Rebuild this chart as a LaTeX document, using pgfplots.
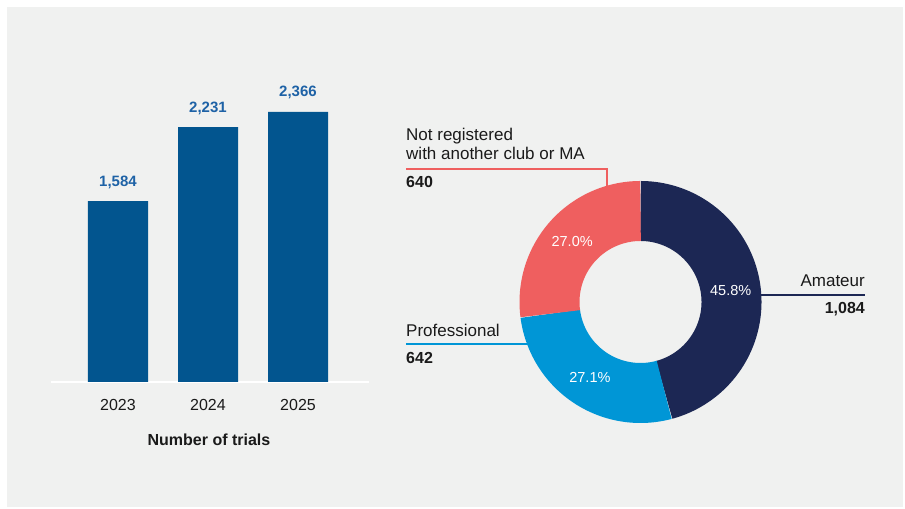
\documentclass[border=0pt]{standalone}
\usepackage{pgfplots}
\pgfplotsset{compat=1.18}
\usepackage{fontspec}
\setmainfont{Liberation Sans}
\definecolor{bg}{HTML}{F0F1F0}
\definecolor{barblue}{HTML}{02558F}
\definecolor{lblblue}{HTML}{1E62A6}
\definecolor{navy}{HTML}{1C2754}
\definecolor{sky}{HTML}{0096D6}
\definecolor{coral}{HTML}{EF5F5F}
\definecolor{ink}{HTML}{1A1A1A}
\newcommand{\fs}[1]{\fontsize{#1bp}{#1bp}\selectfont}
\begin{document}
\begin{tikzpicture}[x=1bp,y=1bp]
\useasboundingbox (0,0) rectangle (905,509);
\fill[white] (0,0) rectangle (905,509);
\fill[bg] (7,2) rectangle (903,502);
% ---------------- bar chart ----------------
\begin{axis}[at={(51bp,127bp)}, anchor=south west,
  width=318bp, height=300bp, scale only axis,
  xmin=-0.7444, xmax=2.7889, ymin=0, ymax=2627,
  axis y line=none, axis x line*=bottom,
  x axis line style={white, line width=2bp, -},
  xtick={0,1,2}, xticklabels={2023,2024,2025},
  major tick length=0pt,
  xticklabel style={font=\fs{16}, text=ink, anchor=base, yshift=-28.7bp},
  /pgf/number format/.cd, 1000 sep={,}, assume math mode=true]
\addplot[ybar, bar width=60bp, bar shift=0pt, fill=barblue, draw=none,
  nodes near coords,
  every node near coord/.append style={font=\bfseries\fs{15}, text=lblblue, anchor=base, yshift=15bp, inner sep=0pt}]
  coordinates {(0,1584) (1,2231) (2,2366)};
\end{axis}
\node[anchor=base, inner sep=0pt, font=\bfseries\fs{16}, text=ink] at (209,63.3) {Number of trials};
% ---------------- donut ----------------
\pgfmathsetmacro\tot{1084+642+640}
\pgfmathsetmacro\aA{90-1084/\tot*360}
\pgfmathsetmacro\aB{\aA-642/\tot*360}
\pgfmathsetmacro\aC{\aB-640/\tot*360}
\pgfmathsetmacro\mA{(90+\aA)/2}
\pgfmathsetmacro\mB{(\aA+\aB)/2}
\pgfmathsetmacro\mC{(\aB+\aC)/2}
\begin{axis}[at={(640.5bp,207bp)}, anchor=center,
  width=300bp, height=300bp, scale only axis,
  xmin=-150, xmax=150, ymin=-150, ymax=150,
  hide axis, clip=false]
\draw[navy, line width=1.3bp] (axis cs:110,7) -- (axis cs:224.5,7);
\draw[sky, line width=1.3bp] (axis cs:-234.5,-42) -- (axis cs:-110,-42);
\draw[coral, line width=1.3bp] (axis cs:-234.5,133) -- (axis cs:-33.5,133) -- (axis cs:-33.5,110);
\addplot[navy, line width=60bp, domain=\aA:90, samples=120, variable=\t] ({91*cos(\t)},{91*sin(\t)});
\addplot[sky, line width=60bp, domain=\aB:\aA, samples=80, variable=\t] ({91*cos(\t)},{91*sin(\t)});
\addplot[coral, line width=60bp, domain=\aC:\aB, samples=80, variable=\t] ({91*cos(\t)},{91*sin(\t)});
\node[text=white, font=\fs{14.5}] at (axis cs:{91*cos(\mA)},{91*sin(\mA)}) {45.8\%};
\node[text=white, font=\fs{14.5}] at (axis cs:{91*cos(\mB)},{91*sin(\mB)}) {27.1\%};
\node[text=white, font=\fs{14.5}] at (axis cs:{91*cos(\mC)},{91*sin(\mC)}) {27.0\%};
\node[anchor=base east, inner sep=0pt, font=\fs{17}, text=ink] at (axis cs:224.5,15.3) {Amateur};
\node[anchor=base east, inner sep=0pt, font=\bfseries\fs{16}, text=ink] at (axis cs:224.5,-12) {1,084};
\node[anchor=base west, inner sep=0pt, font=\fs{17}, text=ink] at (axis cs:-234.5,-34.7) {Professional};
\node[anchor=base west, inner sep=0pt, font=\bfseries\fs{16}, text=ink] at (axis cs:-234.5,-61.3) {642};
\node[anchor=base west, inner sep=0pt, font=\fs{17}, text=ink] at (axis cs:-234.5,161) {Not registered};
\node[anchor=base west, inner sep=0pt, font=\fs{17}, text=ink] at (axis cs:-234.5,142.7) {with another club or MA};
\node[anchor=base west, inner sep=0pt, font=\bfseries\fs{16}, text=ink] at (axis cs:-234.5,114.3) {640};
\end{axis}
\end{tikzpicture}
\end{document}
